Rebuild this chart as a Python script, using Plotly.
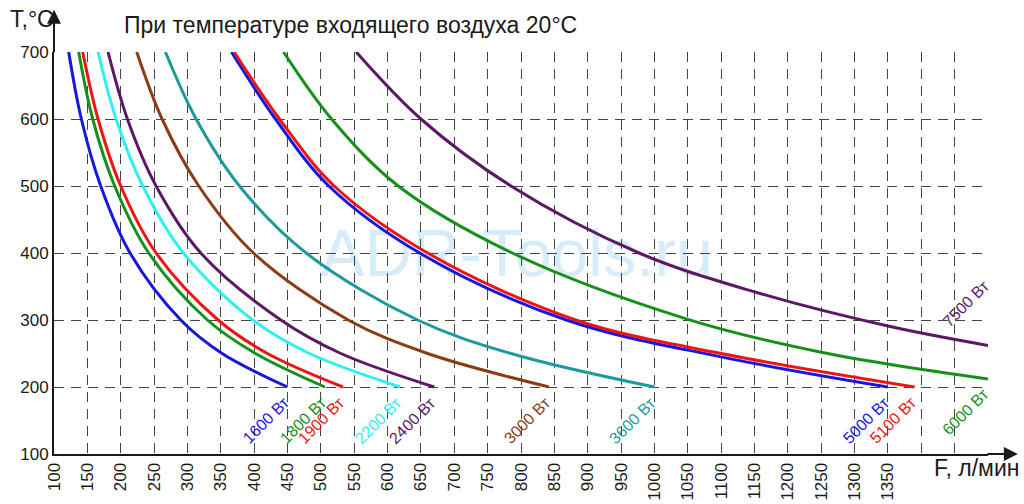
import plotly.graph_objects as go

# ---- data ----
names = ["1600 Вт", "1800 Вт", "1900 Вт", "2200 Вт", "2400 Вт", "3000 Вт",
         "3600 Вт", "5000 Вт", "5100 Вт", "6000 Вт", "7500 Вт"]

t_common = [700, 600, 500, 400, 300, 250, 200]
f_1600 = [122, 141, 170, 214, 290, 352, 450]
f_1800 = [137, 158, 191, 242, 330, 402, 506]
f_1900 = [143, 166, 200, 253, 346, 420, 533]
f_2200 = [166, 193, 233, 294, 398, 483, 619]
f_2400 = [181, 210, 253, 320, 440, 530, 670]
f_3000 = [224, 262, 317, 399, 541, 660, 842]
f_3600 = [267, 313, 378, 478, 645, 785, 1000]
t_5000 = [700, 600, 500, 400, 300, 245, 200]
f_5000 = [366, 432, 512, 648, 868, 1100, 1350]
t_5100 = [700, 600, 500, 400, 300, 250, 200]
f_5100 = [370, 438, 520, 660, 882, 1100, 1390]
t_6000 = [700, 600, 500, 400, 301, 252, 212]
f_6000 = [444, 516, 616, 787, 1050, 1250, 1500]
t_7500 = [700, 600, 500, 400, 342, 291, 262]
f_7500 = [553, 650, 785, 977, 1150, 1350, 1500]

x_ticks = list(range(100, 1501, 50))
x_tick_labels = [str(v) if v <= 1350 else "" for v in x_ticks]
y_ticks = [100, 200, 300, 400, 500, 600, 700]

# ---- styles ----
BLUE = "#1616e0"
GREEN = "#16901a"
RED = "#ee1414"
CYAN = "#2ef0f0"
PURPLE = "#5c1866"
BROWN = "#8c3c14"
TEAL = "#1e9a9a"

series = [
    (names[0], f_1600, t_common, BLUE),
    (names[1], f_1800, t_common, GREEN),
    (names[2], f_1900, t_common, RED),
    (names[3], f_2200, t_common, CYAN),
    (names[4], f_2400, t_common, PURPLE),
    (names[5], f_3000, t_common, BROWN),
    (names[6], f_3600, t_common, TEAL),
    (names[7], f_5000, t_5000, BLUE),
    (names[8], f_5100, t_5100, RED),
    (names[9], f_6000, t_6000, GREEN),
    (names[10], f_7500, t_7500, PURPLE),
]

FONT = "Liberation Sans, Arial, sans-serif"
TXT = "#1a1a1a"

fig = go.Figure()
annotations = []
for name, fx, ty, col in series:
    fig.add_trace(go.Scatter(x=fx, y=ty, mode="lines", name=name,
                             line=dict(color=col, width=3, shape="spline", smoothing=1.0),
                             hoverinfo="skip", showlegend=False))
    above = name == "7500 Вт"
    annotations.append(dict(x=fx[-1], y=ty[-1], xref="x", yref="y", text=name,
                            showarrow=False, textangle=-45,
                            xshift=-22, yshift=(42 if above else -33),
                            font=dict(family=FONT, size=16, color=col)))

# title and axis names
annotations += [
    dict(xref="paper", yref="paper", x=0.0728, y=1.067, xanchor="left", yanchor="middle",
         text="При температуре входящего воздуха 20°C", showarrow=False,
         font=dict(family=FONT, size=23, color=TXT)),
    dict(xref="paper", yref="paper", x=-0.049, y=1.082, xanchor="left", yanchor="middle",
         text="T,°C", showarrow=False, font=dict(family=FONT, size=23, color=TXT)),
    dict(xref="paper", yref="paper", x=0.940, y=-0.035, xanchor="left", yanchor="middle",
         text="F, л/мин", showarrow=False, font=dict(family=FONT, size=23, color=TXT)),
    # axis arrows
    dict(xref="paper", yref="paper", x=0, y=1.105, ax=0, ay=44, text="", showarrow=True,
         arrowhead=2, arrowsize=1.4, arrowwidth=2, arrowcolor=TXT),
    dict(xref="paper", yref="paper", x=1.032, y=0, ax=-32, ay=0, text="", showarrow=True,
         arrowhead=2, arrowsize=1.4, arrowwidth=2, arrowcolor=TXT),
]

fig.update_layout(
    width=1024, height=504,
    margin=dict(l=54, r=36, t=52, b=50, autoexpand=False),
    paper_bgcolor="white", plot_bgcolor="white",
    font=dict(family=FONT, color=TXT),
    annotations=annotations,
    shapes=[dict(type="rect", xref="paper", yref="paper", x0=0.263, x1=0.728, y0=0.433, y1=0.595,
                 layer="below", line=dict(width=0), fillcolor="rgba(0,0,0,0)",
                 label=dict(text="ADR-Tools.ru", textposition="middle center",
                            font=dict(family=FONT, size=66, color="#d6ecfb")))],
)

fig.update_xaxes(range=[100, 1500], tickvals=x_ticks, ticktext=x_tick_labels, tickangle=-90,
                 showgrid=True, gridcolor="#444444", gridwidth=1, griddash="10px,7px",
                 showline=True, linecolor=TXT, linewidth=2, zeroline=False, automargin=False,
                 ticks="", tickfont=dict(size=17, family=FONT, color=TXT))
fig.update_yaxes(range=[100, 700], tickvals=y_ticks, showgrid=True, gridcolor="#444444",
                 gridwidth=1, griddash="10px,7px", showline=True, linecolor=TXT,
                 linewidth=2, zeroline=False, ticks="", automargin=False,
                 tickfont=dict(size=17, family=FONT, color=TXT))

fig.write_html("out.html")
